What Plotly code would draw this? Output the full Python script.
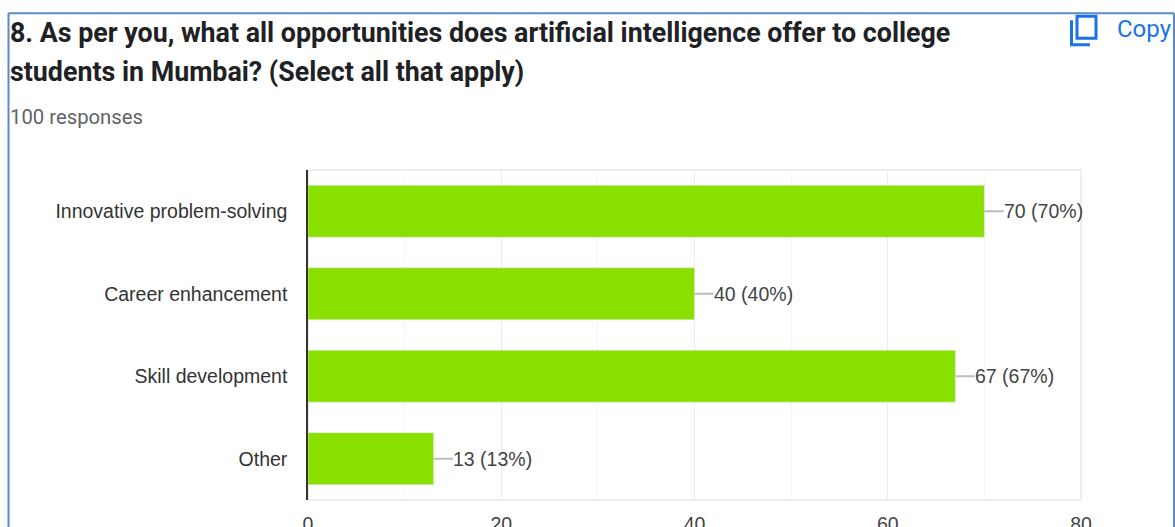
import plotly.graph_objects as go

categories = ["Innovative problem-solving", "Career enhancement", "Skill development", "Other"]
counts = [70, 40, 67, 13]
percents = [70, 40, 67, 13]
x_ticks = [0, 20, 40, 60, 80]
leader = 2

W, H = 1175, 527
L, R, T, B = 308, 1081, 170, 500.5
def px(x): return (x - L) / (R - L)
def py(y): return (B - y) / (B - T)

fig = go.Figure()
fig.add_trace(go.Bar(y=categories, x=counts, orientation="h", marker=dict(color="#8ae000"),
                     width=0.63, showlegend=False, hoverinfo="skip"))
value_labels = []
for c, v, p in zip(categories, counts, percents):
    fig.add_trace(go.Scatter(x=[v, v + leader], y=[c, c], mode="lines", line=dict(color="#bdbdbd", width=2),
                             showlegend=False, hoverinfo="skip"))
    value_labels.append(dict(text=f"{v} ({p}%)", x=v + leader, y=c, xref="x", yref="y", xanchor="left", yanchor="middle",
                             showarrow=False, xshift=0, yshift=0, borderpad=0, borderwidth=0,
                             font=dict(family="Liberation Sans", size=19.5, color="#444444")))

shapes = [
    # screenshot frame
    dict(type="line", xref="paper", yref="paper", x0=px(8.5), x1=px(8.5), y0=py(13), y1=py(530), line=dict(color="#5b8ac9", width=2)),
    dict(type="line", xref="paper", yref="paper", x0=px(8.5), x1=px(1174), y0=py(13), y1=py(13), line=dict(color="#5b8ac9", width=2)),
    dict(type="line", xref="paper", yref="paper", x0=px(1174), x1=px(1174), y0=py(13), y1=py(530), line=dict(color="#5b8ac9", width=2)),
    # plot frame
    dict(type="rect", xref="paper", yref="paper", x0=0, x1=1, y0=0, y1=1, layer="below", line=dict(color="#eeeeee", width=2)),
    # copy icon
    dict(type="rect", xref="paper", yref="paper", x0=px(1077), x1=px(1096), y0=py(16), y1=py(38), line=dict(color="#1a73e8", width=3)),
    dict(type="path", xref="paper", yref="paper",
         path=f"M {px(1071.5)} {py(20)} L {px(1071.5)} {py(44.5)} L {px(1090)} {py(44.5)}",
         line=dict(color="#1a73e8", width=3)),
]

annotations = [
    dict(text="<b>8. As per you, what all opportunities does artificial intelligence offer to college</b>", x=px(7.5), y=py(33),
         font=dict(family="Roboto", size=26.8, color="#202124")),
    dict(text="<b>students in Mumbai? (Select all that apply)</b>", x=px(7.5), y=py(72),
         font=dict(family="Roboto", size=26.8, color="#202124")),
    dict(text="100 responses", x=px(7.5), y=py(117), font=dict(family="Roboto", size=20.3, color="#5f6368")),
    dict(text="Copy", x=px(1115), y=py(29), font=dict(family="Roboto", size=24, color="#1a73e8")),
]
for a in annotations:
    a.update(xref="paper", yref="paper", xanchor="left", yanchor="middle", showarrow=False, align="left")

fig.update_layout(
    width=W, height=H, autosize=False,
    margin=dict(l=L, r=W - R, t=T, b=H - B, pad=0, autoexpand=False),
    paper_bgcolor="#ffffff", plot_bgcolor="#ffffff",
    shapes=shapes, annotations=annotations + value_labels,
    xaxis=dict(range=[0, 80], tickvals=x_ticks, showgrid=True, gridcolor="#ececec", gridwidth=1,
               minor=dict(dtick=10, showgrid=True, gridcolor="#f5f5f5", gridwidth=1),
               zeroline=False, showline=False, ticks="outside", ticklen=7, tickcolor="rgba(0,0,0,0)",
               tickfont=dict(family="Liberation Sans", size=19.5, color="#444444")),
    yaxis=dict(categoryorder="array", categoryarray=categories[::-1], showgrid=False, zeroline=False,
               showline=True, linecolor="#333333", linewidth=1.5, ticks="outside", ticklen=15, tickcolor="rgba(0,0,0,0)",
               tickfont=dict(family="Liberation Sans", size=19.5, color="#333333")),
)
fig.write_html("out.html", config=dict(displayModeBar=False),
               post_script="document.body.style.margin='0';document.body.style.overflow='hidden';")
